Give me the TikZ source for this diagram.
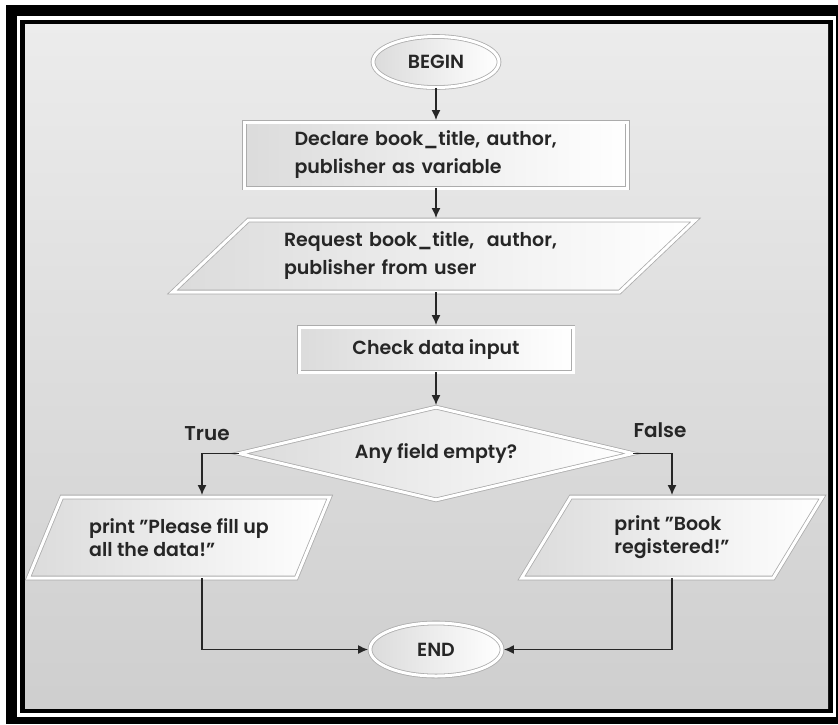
\documentclass[tikz,border=0pt]{standalone}
\usepackage{fontspec}
\setmainfont{Poppins}[BoldFont={* SemiBold}]
\usetikzlibrary{shapes.geometric,arrows.meta}

\newcommand{\flowtext}{\bfseries\fontsize{19}{28}\selectfont}
\newcommand{\printtext}{\bfseries\fontsize{19}{23}\selectfont}

\begin{document}
\begin{tikzpicture}[x=1pt, y=-1pt, >={Latex[length=10pt,width=9pt]},
  shapebox/.style={draw=gray!65, line width=0.8pt, double=white, double distance=3pt,
    left color=gray!28, right color=white, text=black!85, font=\flowtext, inner sep=0pt},
  terminal/.style={shapebox, ellipse},
  process/.style={shapebox, rectangle},
  io/.style={shapebox, trapezium, trapezium stretches=true},
  decision/.style={shapebox, diamond, aspect=4.1},
  flow/.style={->, line width=1.6pt, draw=black!85, shorten >=1.5pt},
  branch/.style={text=black!85, font=\bfseries\fontsize{20}{24}\selectfont}]
    \useasboundingbox (0,0) rectangle (838,724);

    % Frame and background
    \fill[white] (0,0) rectangle (838,724);
    \fill[black] (6,5) rectangle (838,724);
    \fill[white] (17,16) rectangle (836,717);
    \fill[black] (20,20) rectangle (833,713);
    \shade[top color=gray!15, bottom color=gray!38] (25,24) rectangle (828,708);

    % Main column
    \node[terminal, minimum width=126, minimum height=51] (begin) at (436,62) {BEGIN};
    \node[process, minimum width=383, minimum height=66, text width=283, align=left]
          (declare) at (436,155) {Declare book\_title, author,\\publisher as variable};
    \node[io, minimum width=523, minimum height=72, text width=300, align=left,
          trapezium left angle=38, trapezium right angle=142]
          (request) at (434,256) {Request book\_title,\ \ author,\\publisher from user};
    \node[process, minimum width=274, minimum height=45] (check) at (436,349.5) {Check data input};
    \node[decision, minimum width=394, minimum height=93] (cond) at (436,453.5) {Any field empty?};

    % Branches
    \node[io, minimum width=302, minimum height=81, align=left, font=\printtext,
          trapezium left angle=56, trapezium right angle=124]
          (fill) at (179,537.5) {print "Please fill up\\all the data!"};
    \node[io, minimum width=301, minimum height=81, align=left, font=\printtext,
          trapezium left angle=57, trapezium right angle=123]
          (done) at (672,537.5) {print "Book\\registered!"};
    \node[branch] (true) at (207,434) {True};
    \node[branch] (false) at (660,430) {False};
    \coordinate (tleft) at (202,0);

    \node[terminal, minimum width=132, minimum height=53] (end) at (436,649.5) {END};

    % Connections
    \draw[flow] (begin) -- (declare);
    \draw[flow] (declare) -- (declare |- request.north);
    \draw[flow] (request.south -| check) -- (check);
    \draw[flow] (check) -- (cond);
    \draw[flow] (cond.west) -| (tleft |- fill.north);
    \draw[flow] (cond.east) -| (done.north);
    \draw[flow] (tleft |- fill.south) |- (end.west);
    \draw[flow] (done.south) |- (end.east);
\end{tikzpicture}
\end{document}
